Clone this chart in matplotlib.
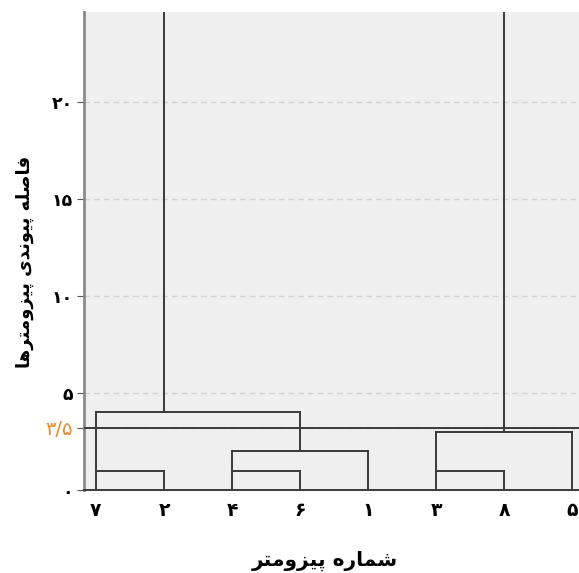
import matplotlib
matplotlib.use("Agg")
import matplotlib.pyplot as plt

# ---------------- data ----------------
leaf_order = [7, 2, 4, 6, 1, 3, 8, 5]          # piezometer numbers, left to right
# merges: (name, left child, right child, height, anchor leaf of the new cluster)
# a child is either a leaf number (int) or the name of an earlier cluster
merges = [
    ("A", 7, 2, 1.0, 7),
    ("B", 4, 6, 1.0, 4),
    ("C", "B", 1, 2.0, 6),
    ("D", "A", "C", 4.0, 2),
    ("E", 3, 8, 1.0, 3),
    ("F", "E", 5, 3.0, 8),
    ("G", "D", "F", 28.0, 8),
]
cut_height = 3.2
cut_label = "۳/۵"
y_ticks = [0, 5, 10, 15, 20]
x_label = "شماره پیزومتر"
y_label = "فاصله پیوندی پیزومترها"

# ---------------- persian helpers ----------------
FA_DIGITS = str.maketrans("0123456789", "۰۱۲۳۴۵۶۷۸۹")

# isolated, final, initial, medial
FORMS = {
    "ا": ("\uFE8D", "\uFE8E", None, None),
    "د": ("\uFEA9", "\uFEAA", None, None),
    "ر": ("\uFEAD", "\uFEAE", None, None),
    "ز": ("\uFEAF", "\uFEB0", None, None),
    "و": ("\uFEED", "\uFEEE", None, None),
    "ف": ("\uFED1", "\uFED2", "\uFED3", "\uFED4"),
    "ص": ("\uFEB9", "\uFEBA", "\uFEBB", "\uFEBC"),
    "ل": ("\uFEDD", "\uFEDE", "\uFEDF", "\uFEE0"),
    "ه": ("\uFEE9", "\uFEEA", "\uFEEB", "\uFEEC"),
    "پ": ("\uFB56", "\uFB57", "\uFB58", "\uFB59"),
    "ی": ("\uFBFC", "\uFBFD", "\uFBFE", "\uFBFF"),
    "ن": ("\uFEE5", "\uFEE6", "\uFEE7", "\uFEE8"),
    "م": ("\uFEE1", "\uFEE2", "\uFEE3", "\uFEE4"),
    "ت": ("\uFE95", "\uFE96", "\uFE97", "\uFE98"),
    "ش": ("\uFEB5", "\uFEB6", "\uFEB7", "\uFEB8"),
}


def fa(text):
    out = []
    for i, ch in enumerate(text):
        if ch not in FORMS:
            out.append(ch)
            continue
        prev = text[i - 1] if i > 0 else None
        nxt = text[i + 1] if i + 1 < len(text) else None
        f = FORMS[ch]
        jp = prev in FORMS and FORMS[prev][2] is not None
        jn = f[2] is not None and nxt in FORMS
        if jp and jn:
            out.append(f[3])
        elif jp:
            out.append(f[1])
        elif jn:
            out.append(f[2])
        else:
            out.append(f[0])
    return "".join(out)[::-1]


def fa_num(v):
    return str(v).translate(FA_DIGITS)


# ---------------- figure ----------------
W, H = 579, 573
fig = plt.figure(figsize=(W / 100, H / 100), dpi=100)
ax = fig.add_axes([84 / W, 83 / H, 1 - 84 / W, 478 / H])
ax.set_facecolor("#efefef")

line_c = "#3a3a3a"
lw = 1.4
pos = {leaf: i for i, leaf in enumerate(leaf_order)}
clusters = {leaf: (0.0, leaf) for leaf in leaf_order}   # height, anchor leaf

for name, a, b, h, anchor in merges:
    ha_, an_a = clusters[a]
    hb_, an_b = clusters[b]
    xa, xb = pos[an_a], pos[an_b]
    ax.plot([xa, xa], [ha_, h], color=line_c, lw=lw, zorder=3)
    ax.plot([xb, xb], [hb_, h], color=line_c, lw=lw, zorder=3)
    ax.plot([xa, xb], [h, h], color=line_c, lw=lw, zorder=3)
    clusters[name] = (h, anchor)

ax.axhline(cut_height, color=line_c, lw=lw, zorder=3)

ax.set_xlim(-0.176, 7.103)
ax.set_ylim(0, 24.64)

ax.set_yticks(y_ticks + [cut_height])
ax.set_yticklabels([fa_num(v) for v in y_ticks] + [cut_label],
                   fontsize=12.5, fontweight="bold")
orange = ax.get_yticklabels()[-1]
orange.set_color("#e8892b")
orange.set_fontweight("normal")
orange.set_fontsize(14)
ax.tick_params(axis="y", length=5, color="#555555", pad=3)

ax.set_xticks(range(len(leaf_order)))
ax.set_xticklabels([fa_num(v) for v in leaf_order], fontsize=13.5, fontweight="bold")
ax.tick_params(axis="x", length=0, pad=8)

ax.yaxis.grid(True, linestyle=(0, (4, 3)), color="#d2d2d2", lw=1)
ax.set_axisbelow(True)

for s in ["top", "right"]:
    ax.spines[s].set_visible(False)
ax.spines["left"].set_color("#8a8a8a")
ax.spines["left"].set_linewidth(2)
ax.spines["bottom"].set_color(line_c)
ax.spines["bottom"].set_linewidth(lw)

fig.text(325 / W, 1 - 561 / H, fa(x_label), ha="center", va="center",
         fontsize=14.5, fontweight="bold")
fig.text(25 / W, 1 - 262 / H, fa(y_label), ha="center", va="center",
         rotation=90, fontsize=13, fontweight="bold")

fig.savefig("out.png", dpi=100)
